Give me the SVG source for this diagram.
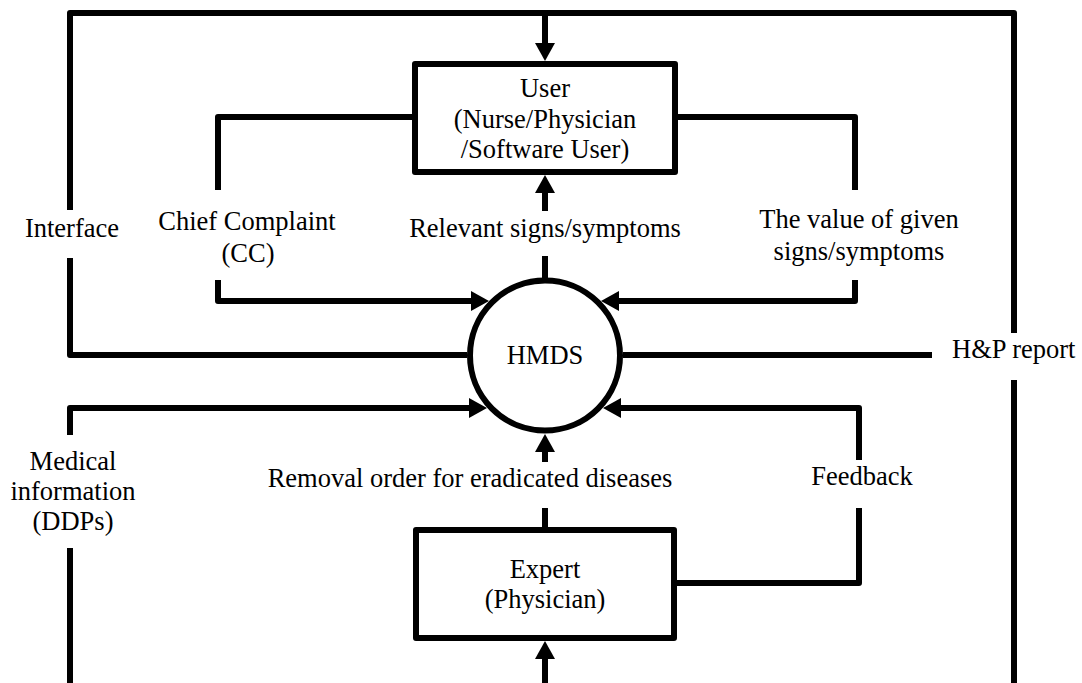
<svg xmlns="http://www.w3.org/2000/svg" width="1082" height="683" viewBox="0 0 1082 683">
  <defs>
    <marker id="arrow" markerUnits="userSpaceOnUse" viewBox="0 0 18 20" markerWidth="18" markerHeight="20" refX="8" refY="10" orient="auto">
      <path d="M0,0 L18,10 L0,20 z" fill="#000"/>
    </marker>
    <style>
      .wire { fill: none; stroke: #000; stroke-width: 6; stroke-linejoin: round; }
      .arr { marker-end: url(#arrow); }
      .box { fill: #fff; stroke: #000; stroke-width: 6; stroke-linejoin: round; }
      .lbl { font-family: "Liberation Serif", "Times New Roman", serif; font-size: 26.5px; fill: #000; }
      .mid { text-anchor: middle; }
    </style>
  </defs>
  <rect width="1082" height="683" fill="#fff"/>

  <!-- connectors -->
  <g id="connectors">
    <!-- Interface loop across the top -->
    <path class="wire" d="M70,210 V13 H1014 V333"/>
    <path class="wire arr" d="M545,13 V51"/>
    <path class="wire" d="M70,258 V355 H467"/>
    <!-- H&P report -->
    <path class="wire" d="M623,355 H932"/>
    <path class="wire" d="M1014,380 V683"/>
    <!-- Chief Complaint -->
    <path class="wire" d="M415,117 H218 V190"/>
    <path class="wire arr" d="M218,280 V301 H479"/>
    <!-- The value of given signs/symptoms -->
    <path class="wire" d="M675,117 H855 V190"/>
    <path class="wire arr" d="M855,280 V301 H611"/>
    <!-- Relevant signs/symptoms -->
    <path class="wire arr" d="M545,211 V185"/>
    <path class="wire" d="M545,256 V278"/>
    <!-- Medical information (DDPs) -->
    <path class="wire" d="M70,683 V548"/>
    <path class="wire arr" d="M70,435 V408 H477"/>
    <!-- Removal order for eradicated diseases -->
    <path class="wire arr" d="M545,462 V444"/>
    <path class="wire" d="M545,508 V527"/>
    <!-- Feedback -->
    <path class="wire" d="M677,583 H859 V508"/>
    <path class="wire arr" d="M859,460 V408 H613"/>
    <!-- into Expert -->
    <path class="wire arr" d="M545,683 V651"/>
  </g>

  <!-- connector labels -->
  <g id="labels">
    <text class="lbl mid" x="72" y="237">Interface</text>
    <text class="lbl mid" x="247" y="230">Chief Complaint</text>
    <text class="lbl mid" x="248" y="262">(CC)</text>
    <text class="lbl mid" x="545" y="237">Relevant signs/symptoms</text>
    <text class="lbl mid" x="859" y="228">The value of given</text>
    <text class="lbl mid" x="859" y="260">signs/symptoms</text>
    <text class="lbl" x="952" y="358">H&amp;P report</text>
    <text class="lbl mid" x="73" y="470">Medical</text>
    <text class="lbl mid" x="73" y="500">information</text>
    <text class="lbl mid" x="73" y="530">(DDPs)</text>
    <text class="lbl mid" x="470" y="487">Removal order for eradicated diseases</text>
    <text class="lbl mid" x="862" y="485">Feedback</text>
  </g>

  <!-- nodes -->
  <g id="user">
    <rect class="box" x="415" y="64" width="260" height="108"/>
    <text class="lbl mid" x="545" y="97">User</text>
    <text class="lbl mid" x="545" y="128">(Nurse/Physician</text>
    <text class="lbl mid" x="545" y="158">/Software User)</text>
  </g>
  <g id="hmds">
    <circle cx="545" cy="355.5" r="75" fill="#fff" stroke="#000" stroke-width="6"/>
    <text class="lbl mid" x="545" y="364">HMDS</text>
  </g>
  <g id="expert">
    <rect class="box" x="416" y="530" width="258" height="108"/>
    <text class="lbl mid" x="545" y="578">Expert</text>
    <text class="lbl mid" x="545" y="608">(Physician)</text>
  </g>
</svg>
